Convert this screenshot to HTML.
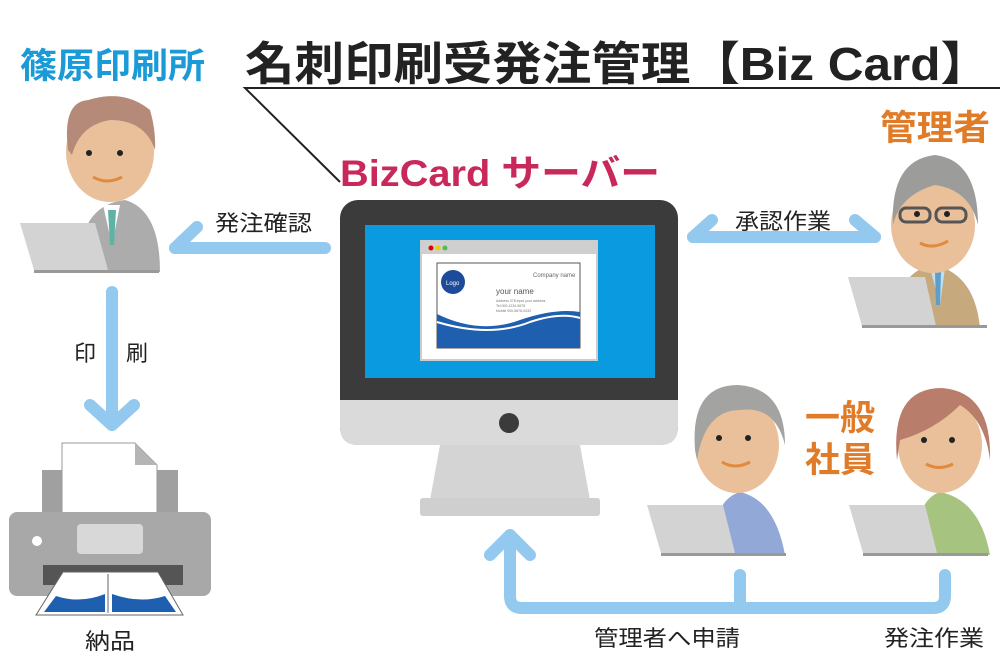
<!DOCTYPE html>
<html><head><meta charset="utf-8"><style>
html,body{margin:0;padding:0;background:#fff;}
svg{display:block;}
text{font-family:"Liberation Sans","Noto Sans CJK JP",sans-serif;}
</style></head><body>
<svg width="1000" height="667" viewBox="0 0 1000 667" xmlns="http://www.w3.org/2000/svg">
<!-- Title -->
<text x="245" y="80" font-size="46" font-weight="bold" fill="#222" textLength="745" lengthAdjust="spacingAndGlyphs">名刺印刷受発注管理【Biz Card】</text>
<polyline points="1000,88 245,88 340,182" fill="none" stroke="#222" stroke-width="2"/>
<text x="20" y="78" font-size="35" font-weight="bold" fill="#1a9ad6" textLength="185" lengthAdjust="spacingAndGlyphs">篠原印刷所</text>
<text x="880" y="140" font-size="35" font-weight="bold" fill="#e07b28" textLength="110" lengthAdjust="spacingAndGlyphs">管理者</text>
<text x="340" y="186" font-size="37" font-weight="bold" fill="#c8285a" textLength="320" lengthAdjust="spacingAndGlyphs">BizCard サーバー</text>
<text x="805" y="430" font-size="35" font-weight="bold" fill="#e07b28" textLength="70" lengthAdjust="spacingAndGlyphs">一般</text>
<text x="805" y="472" font-size="35" font-weight="bold" fill="#e07b28" textLength="70" lengthAdjust="spacingAndGlyphs">社員</text>

<!-- Monitor -->
<path d="M440 445 L580 445 L590 500 L430 500 Z" fill="#d4d4d4"/>
<rect x="420" y="498" width="180" height="18" rx="3" fill="#cfcfcf"/>
<rect x="340" y="200" width="338" height="245" rx="18" fill="#3b3b3b"/>
<path d="M340 400 L678 400 L678 427 Q678 445 660 445 L358 445 Q340 445 340 427 Z" fill="#dadada"/>
<circle cx="509" cy="423" r="10" fill="#3b3b3b"/>
<rect x="365" y="225" width="290" height="153" fill="#0a9ae0"/>
<rect x="421" y="241" width="176" height="119" fill="#fff" stroke="#ccc" stroke-width="2"/>
<rect x="421" y="241" width="176" height="13" fill="#cfcfcf"/>
<circle cx="431" cy="248" r="2.5" fill="#d00"/><circle cx="438" cy="248" r="2.5" fill="#ec0"/><circle cx="445" cy="248" r="2.5" fill="#5b5"/>
<rect x="437" y="263" width="143" height="85" fill="#fff" stroke="#555" stroke-width="1"/>
<path d="M437 314 Q480 335 520 320 Q555 308 580 312 L580 348 L437 348 Z" fill="#1e5fb0"/>
<path d="M437 322 Q490 338 530 322 Q560 312 580 318" fill="none" stroke="#fff" stroke-width="2"/>
<circle cx="453" cy="282" r="12" fill="#1d4a9a"/>
<text x="446" y="285" font-size="6" fill="#fff">Logo</text>
<text x="533" y="277" font-size="6" fill="#666">Company name</text>
<text x="496" y="294" font-size="8" fill="#555">your name</text>
<text x="496" y="302" font-size="3.5" fill="#777">Address  078 input your address</text>
<text x="496" y="307" font-size="3.5" fill="#777">Tel      000-1234-5678</text>
<text x="496" y="312" font-size="3.5" fill="#777">Mobile   000-5678-0432</text>

<!-- Arrows -->
<g stroke="#93c9ef" stroke-width="12" stroke-linecap="round" stroke-linejoin="round" fill="none">
<polyline points="325,248 175,248"/><polyline points="197,227 175,248"/>
<polyline points="693,237 875,237"/><polyline points="712,220 693,237"/><polyline points="855,220 875,237"/>
<polyline points="112,292 112,425"/><polyline points="90,405 112,425 134,405"/>
<path d="M510 535 L510 596 Q510 608 522 608 L933 608 Q945 608 945 596 L945 575"/>
<polyline points="490,555 510,535 530,555"/>
<polyline points="740,575 740,608"/>
</g>
<text x="215" y="231" font-size="22" fill="#222" textLength="97" lengthAdjust="spacingAndGlyphs">発注確認</text>
<text x="735" y="229" font-size="22" fill="#222" textLength="96" lengthAdjust="spacingAndGlyphs">承認作業</text>
<text x="74" y="361" font-size="22" fill="#222">印</text>
<text x="126" y="361" font-size="22" fill="#222">刷</text>
<text x="594" y="646" font-size="22" fill="#222" textLength="146" lengthAdjust="spacingAndGlyphs">管理者へ申請</text>
<text x="884" y="646" font-size="22" fill="#222" textLength="100" lengthAdjust="spacingAndGlyphs">発注作業</text>
<text x="85" y="649" font-size="22" fill="#222" textLength="50" lengthAdjust="spacingAndGlyphs">納品</text>

<!-- Left man -->
<path d="M78 272 Q78 205 125 200 Q160 210 160 272 Z" fill="#acacac"/>
<path d="M103 205 L120 205 L112 245 Z" fill="#fff"/><path d="M108 210 L116 210 L114 245 L110 245 Z" fill="#5fb3a4"/>
<ellipse cx="110" cy="152" rx="44" ry="50" fill="#eac09a"/>
<path d="M68 150 Q62 100 90 100 L75 105 Q120 85 150 110 Q156 130 155 150 Q145 120 110 120 Q80 125 72 155 Z" fill="#b68a78"/>
<circle cx="89" cy="153" r="3" fill="#222"/><circle cx="120" cy="153" r="3" fill="#222"/>
<path d="M93 177 Q107 185 122 177" stroke="#e08a40" stroke-width="3" fill="none"/>
<path d="M20 223 L95 223 L108 270 L34 270 Z" fill="#d3d3d3"/>
<rect x="34" y="270" width="125" height="3" fill="#999"/>

<!-- Manager -->
<path d="M895 328 Q895 270 935 265 Q975 275 980 328 Z" fill="#c7a97e"/>
<path d="M930 268 L945 268 L940 305 Z" fill="#bde0f0"/><path d="M935 272 L941 272 L940 305 L936 305 Z" fill="#5e9ecb"/>
<ellipse cx="933" cy="225" rx="42" ry="48" fill="#eac09a"/>
<path d="M893 225 Q890 160 935 155 Q978 160 978 225 Q970 190 935 185 Q900 195 893 225 Z" fill="#9c9d9b"/>
<rect x="900" y="208" width="30" height="14" rx="6" fill="none" stroke="#555" stroke-width="3"/>
<rect x="936" y="208" width="30" height="14" rx="6" fill="none" stroke="#555" stroke-width="3"/>
<circle cx="917" cy="214" r="3" fill="#222"/><circle cx="947" cy="214" r="3" fill="#222"/>
<path d="M920 243 Q933 250 948 241" stroke="#e08a40" stroke-width="3" fill="none"/>
<path d="M848 277 L925 277 L936 326 L862 326 Z" fill="#d3d3d3"/>
<rect x="862" y="325" width="125" height="3" fill="#999"/>

<!-- Elderly woman -->
<path d="M712 555 Q712 500 740 492 Q775 500 785 555 Z" fill="#92a8d6"/>
<ellipse cx="737" cy="445" rx="42" ry="48" fill="#eac09a"/>
<path d="M695 450 Q690 385 738 385 Q785 388 785 445 Q775 405 740 410 Q705 410 697 460 Z" fill="#a3a4a2"/>
<circle cx="719" cy="438" r="3" fill="#222"/><circle cx="748" cy="438" r="3" fill="#222"/>
<path d="M722 462 Q735 470 750 462" stroke="#e08a40" stroke-width="3" fill="none"/>
<path d="M647 505 L723 505 L735 553 L661 553 Z" fill="#d3d3d3"/>
<rect x="661" y="553" width="125" height="3" fill="#999"/>

<!-- Young woman -->
<path d="M915 555 Q915 500 940 492 Q980 500 990 555 Z" fill="#a6c47f"/>
<ellipse cx="940" cy="445" rx="42" ry="48" fill="#eac09a"/>
<path d="M897 460 Q890 388 942 388 Q992 392 990 460 Q985 420 960 405 Q935 430 900 440 Z" fill="#b97d6c"/>
<circle cx="924" cy="440" r="3" fill="#222"/><circle cx="952" cy="440" r="3" fill="#222"/>
<path d="M926 464 Q939 471 953 464" stroke="#e08a40" stroke-width="3" fill="none"/>
<path d="M849 505 L925 505 L937 553 L863 553 Z" fill="#d3d3d3"/>
<rect x="863" y="553" width="125" height="3" fill="#999"/>

<!-- Printer -->
<rect x="42" y="470" width="136" height="50" fill="#a0a0a0"/>
<path d="M62 443 L135 443 L157 465 L157 520 L62 520 Z" fill="#fff" stroke="#999" stroke-width="1"/>
<path d="M135 443 L135 465 L157 465 Z" fill="#b5b5b5"/>
<rect x="9" y="512" width="202" height="84" rx="8" fill="#a8a8a8"/>
<circle cx="37" cy="541" r="5" fill="#fff"/>
<rect x="77" y="524" width="66" height="30" rx="4" fill="#d8d8d8"/>
<rect x="43" y="565" width="140" height="20" fill="#555"/>
<path d="M63 572 L158 572 L183 615 L36 615 Z" fill="#fff" stroke="#666" stroke-width="1"/>
<path d="M56 596 Q80 604 105 594 L105 612 L44 612 Z" fill="#1e5fb0"/>
<path d="M112 594 Q140 604 165 596 L176 612 L112 612 Z" fill="#1e5fb0"/>
<line x1="108" y1="574" x2="108" y2="613" stroke="#666"/>
</svg>
</body></html>
